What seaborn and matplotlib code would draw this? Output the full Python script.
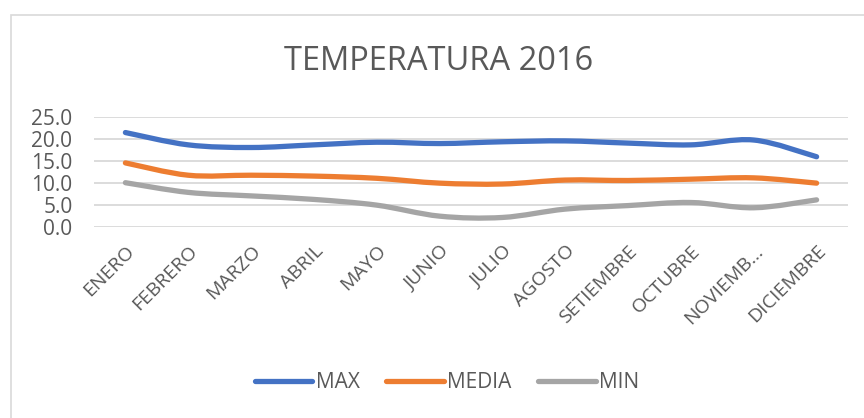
import matplotlib
matplotlib.use("Agg")
import matplotlib.pyplot as plt
import seaborn as sns
import pandas as pd
import numpy as np
from matplotlib.patches import Rectangle, PathPatch
from matplotlib.path import Path
from matplotlib.lines import Line2D

# Monthly temperatures for 2016
meses = ["ENERO", "FEBRERO", "MARZO", "ABRIL", "MAYO", "JUNIO", "JULIO",
         "AGOSTO", "SETIEMBRE", "OCTUBRE", "NOVIEMB…", "DICIEMBRE"]
t_max = [21.4, 18.6, 18.0, 18.6, 19.2, 18.9, 19.3, 19.5, 19.0, 18.6, 19.7, 15.9]
t_media = [14.5, 11.7, 11.7, 11.5, 11.0, 9.9, 9.7, 10.6, 10.5, 10.8, 11.1, 9.9]
t_min = [10.0, 7.8, 7.0, 6.2, 4.9, 2.4, 2.1, 4.0, 4.8, 5.5, 4.3, 6.1]
series = ["MAX", "MEDIA", "MIN"]
y_ticks = [0, 5, 10, 15, 20, 25]

colores = {"MAX": "#4472C4", "MEDIA": "#ED7D31", "MIN": "#A5A5A5"}
texto = "#595959"
rejilla = "#D9D9D9"
grosor = 3.8

df = pd.DataFrame({
    "mes": list(range(len(meses))) * 3,
    "temp": t_max + t_media + t_min,
    "serie": [s for s in series for _ in meses],
})

sns.set_theme(style="white")
plt.rcParams["font.family"] = ["Open Sans", "DejaVu Sans"]

W, H = 864, 418
fig = plt.figure(figsize=(W / 100, H / 100), dpi=100)
ax = fig.add_axes([94 / W, (H - 226.7) / H, (848 - 94) / W, 110 / H])

sns.lineplot(data=df, x="mes", y="temp", hue="serie", palette=colores,
             linewidth=grosor, legend=False, ax=ax, zorder=3)


def suavizar(linea):
    """Replace a polyline by a smoothed cubic Bezier through the same points."""
    p = np.asarray(linea.get_xydata(), dtype=float)
    n = len(p)
    verts = [tuple(p[0])]
    codes = [Path.MOVETO]
    for i in range(n - 1):
        p0 = p[max(i - 1, 0)]
        p1, p2 = p[i], p[i + 1]
        p3 = p[min(i + 2, n - 1)]
        c1 = p1 + (p2 - p0) / 6.0
        c2 = p2 - (p3 - p1) / 6.0
        verts += [tuple(c1), tuple(c2), tuple(p2)]
        codes += [Path.CURVE4] * 3
    patch = PathPatch(Path(verts, codes), facecolor="none",
                      edgecolor=linea.get_color(), linewidth=grosor,
                      capstyle="round", joinstyle="round", zorder=3)
    ax.add_patch(patch)
    linea.set_visible(False)


for linea in list(ax.lines):
    suavizar(linea)

ax.set_xlim(-0.5, len(meses) - 0.5)
ax.set_ylim(0, 25)
ax.set_yticks(y_ticks)
ax.set_yticklabels([f"{v:.1f}" for v in y_ticks], fontsize=15, color=texto)
ax.set_xticks(range(len(meses)))
ax.set_xticklabels(meses, rotation=45, ha="right", rotation_mode="anchor",
                   fontsize=14, color=texto)
ax.tick_params(axis="both", length=0)
ax.tick_params(axis="y", pad=15.5)
ax.tick_params(axis="x", pad=11)
ax.set_xlabel("")
ax.set_ylabel("")
ax.grid(axis="y", color=rejilla, linewidth=1.3)
ax.grid(axis="x", visible=False)
for sp in ax.spines.values():
    sp.set_visible(False)

fig.text(439 / W, (H - 61) / H, "TEMPERATURA 2016", ha="center", va="center",
         fontsize=23.5, color=texto)

handles = [Line2D([], [], color=colores[s], linewidth=grosor, solid_capstyle="round")
           for s in series]
fig.legend(handles, series, loc="center", bbox_to_anchor=(447 / W, (H - 383) / H),
           ncol=3, frameon=False, fontsize=15, labelcolor=texto,
           handlelength=2.75, handletextpad=0.15, columnspacing=1.3)

fig.add_artist(Rectangle((11 / W, -0.05), 1.2, (H - 15) / H + 0.05,
                         transform=fig.transFigure, fill=False,
                         edgecolor=rejilla, linewidth=1.2))

fig.savefig("out.png", dpi=100)
